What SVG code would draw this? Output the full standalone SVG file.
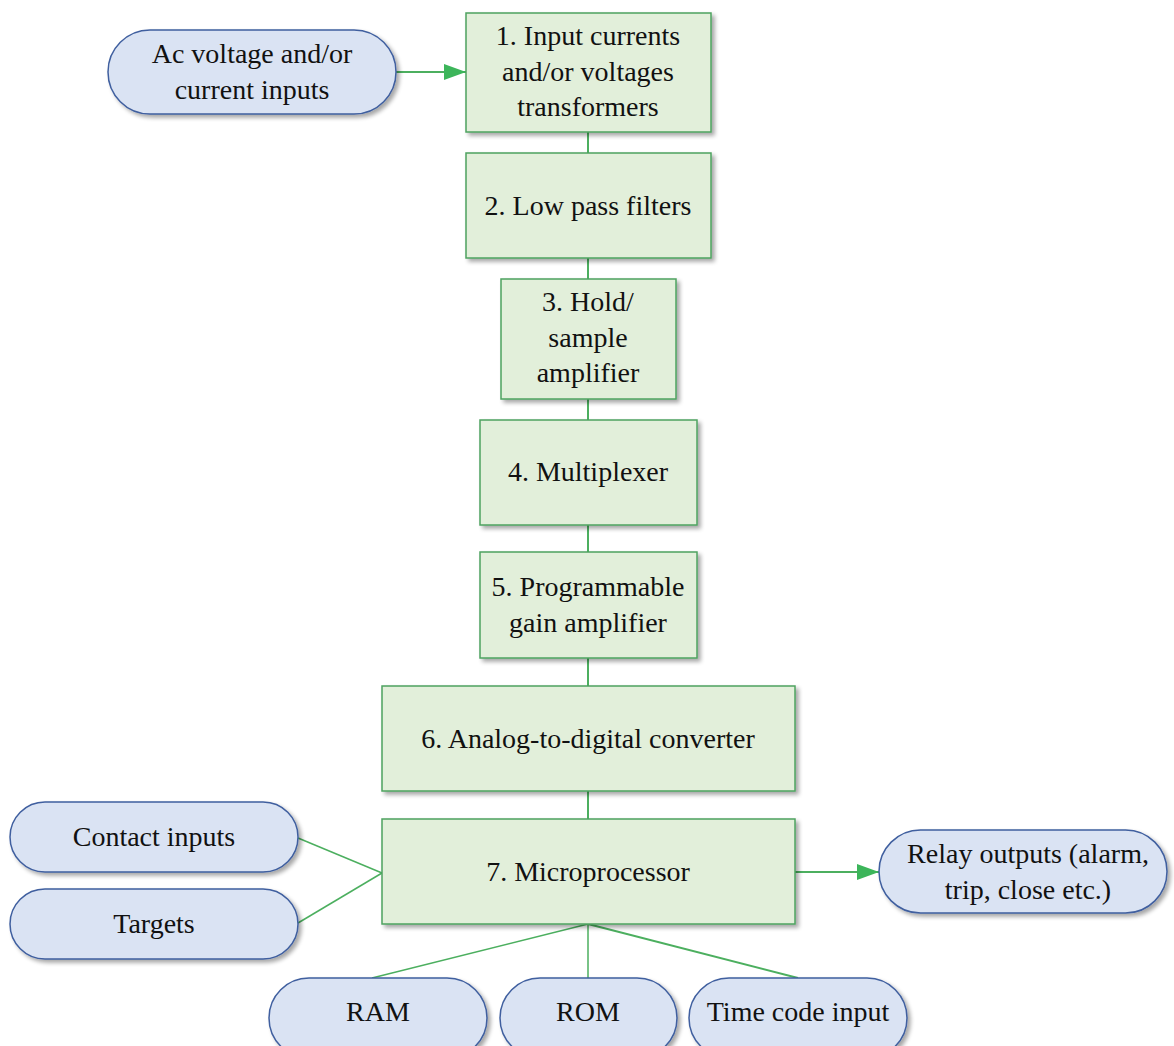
<svg xmlns="http://www.w3.org/2000/svg" width="1174" height="1046" viewBox="0 0 1174 1046">
<style>
.box{fill:#e2efda;stroke:#4ea35f;stroke-width:1.5;filter:url(#sh)}
.pill{fill:#dae3f3;stroke:#3f5f9f;stroke-width:1.5;filter:url(#sh)}
.t{font-family:"Liberation Serif",Tinos,"Times New Roman","DejaVu Serif",serif;font-size:28px;fill:#111;text-anchor:middle}
.c{stroke:#4caf5f;stroke-width:2;fill:none}
.ct{stroke:#4caf5f;stroke-width:1.5;fill:none}
</style>
<defs>
<filter id="sh" x="-10%" y="-10%" width="130%" height="130%">
<feGaussianBlur in="SourceAlpha" stdDeviation="2"/>
<feOffset dx="3" dy="3" result="b"/>
<feComponentTransfer><feFuncA type="linear" slope="0.35"/></feComponentTransfer>
<feMerge><feMergeNode/><feMergeNode in="SourceGraphic"/></feMerge>
</filter>
<marker id="ah" viewBox="0 0 10 10" refX="10" refY="5" markerWidth="22" markerHeight="16" markerUnits="userSpaceOnUse" orient="auto" preserveAspectRatio="none">
<path d="M0,0 L10,5 L0,10 z" fill="#3cb55a"/>
</marker>
</defs>
<rect width="1174" height="1046" fill="#fff"/>
<g id="connectors">
<line class="c" x1="396" y1="72" x2="466" y2="72" marker-end="url(#ah)"/>
<line class="c" x1="588" y1="132" x2="588" y2="153"/>
<line class="c" x1="588" y1="258" x2="588" y2="279"/>
<line class="c" x1="588" y1="399" x2="588" y2="420"/>
<line class="c" x1="588" y1="525" x2="588" y2="552"/>
<line class="c" x1="588" y1="658" x2="588" y2="686"/>
<line class="c" x1="588" y1="791" x2="588" y2="819"/>
<line class="c" x1="795" y1="872" x2="879" y2="872" marker-end="url(#ah)"/>
<line class="ct" x1="298" y1="838" x2="382" y2="873"/>
<line class="ct" x1="298" y1="923" x2="382" y2="873"/>
<line class="ct" x1="588" y1="924" x2="372" y2="978"/>
<line class="ct" x1="588" y1="924" x2="588" y2="978"/>
<line class="c" x1="588" y1="924" x2="798" y2="978"/>
</g>
<g id="ac-input"><rect class="pill" x="108" y="30" width="288" height="84" rx="42"/><text class="t" x="252" y="63">Ac voltage and/or</text><text class="t" x="252" y="99">current inputs</text></g>
<g id="n1"><rect class="box" x="466" y="13" width="245" height="119"/><text class="t" x="588" y="45">1. Input currents</text><text class="t" x="588" y="81">and/or voltages</text><text class="t" x="588" y="116">transformers</text></g>
<g id="n2"><rect class="box" x="466" y="153" width="245" height="105"/><text class="t" x="588" y="215">2. Low pass filters</text></g>
<g id="n3"><rect class="box" x="501" y="279" width="175" height="120"/><text class="t" x="588" y="311">3. Hold/</text><text class="t" x="588" y="347">sample</text><text class="t" x="588" y="382">amplifier</text></g>
<g id="n4"><rect class="box" x="480" y="420" width="217" height="105"/><text class="t" x="588" y="481">4. Multiplexer</text></g>
<g id="n5"><rect class="box" x="480" y="552" width="217" height="106"/><text class="t" x="588" y="596">5. Programmable</text><text class="t" x="588" y="632">gain amplifier</text></g>
<g id="n6"><rect class="box" x="382" y="686" width="413" height="105"/><text class="t" x="588" y="748">6. Analog-to-digital converter</text></g>
<g id="n7"><rect class="box" x="382" y="819" width="413" height="105"/><text class="t" x="588" y="881">7. Microprocessor</text></g>
<g id="contact"><rect class="pill" x="10" y="802" width="288" height="70" rx="35"/><text class="t" x="154" y="846">Contact inputs</text></g>
<g id="targets"><rect class="pill" x="10" y="889" width="288" height="70" rx="35"/><text class="t" x="154" y="933">Targets</text></g>
<g id="relay"><rect class="pill" x="879" y="830" width="288" height="83" rx="41.5"/><text class="t" x="1028" y="863">Relay outputs (alarm,</text><text class="t" x="1028" y="899">trip, close etc.)</text></g>
<g id="ram"><rect class="pill" x="269" y="978" width="218" height="80" rx="40"/><text class="t" x="378" y="1021">RAM</text></g>
<g id="rom"><rect class="pill" x="500" y="978" width="177" height="80" rx="40"/><text class="t" x="588" y="1021">ROM</text></g>
<g id="timecode"><rect class="pill" x="689" y="978" width="218" height="80" rx="40"/><text class="t" x="798" y="1021">Time code input</text></g>
</svg>
